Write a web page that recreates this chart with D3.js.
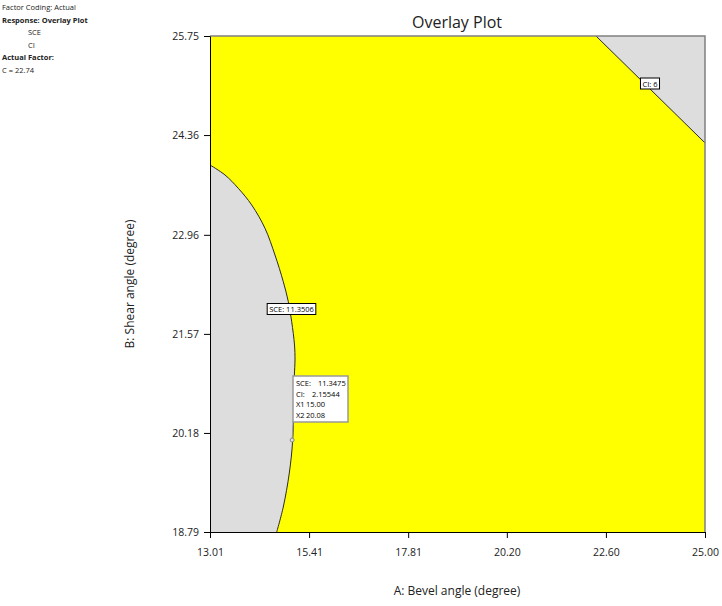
<!DOCTYPE html>
<html><head><meta charset="utf-8">
<script src="https://cdn.jsdelivr.net/npm/d3@7"></script>
<style>body{margin:0;background:#fff}svg{display:block}text{font-family:"Open Sans","Noto Sans",sans-serif}</style>
</head><body>
<svg id="c" width="722" height="606"></svg>
<script>
const xTicks = ["13.01","15.41","17.81","20.20","22.60","25.00"];
const yTicks = ["18.79","20.18","21.57","22.96","24.36","25.75"];
const xDomain = [13.01, 25.00];
const yDomain = [18.79, 25.75];
// SCE = 11.3506 contour (x: bevel angle, y: shear angle)
const sceX = [13.01, 13.373, 13.695, 14.020, 14.342, 14.584, 14.785, 14.907, 14.989, 15.057, 15.069, 15.052, 15.013, 14.931, 14.785, 14.626];
const sceY = [23.940, 23.800, 23.613, 23.379, 23.052, 22.677, 22.303, 22.022, 21.741, 21.414, 21.204, 20.965, 20.081, 19.618, 19.141, 18.790];
// CI = 6 contour
const ciX = [22.36, 25.00];
const ciY = [25.75, 24.25];
const infoLines = [["Factor Coding: Actual",false,0],["Response: Overlay Plot",true,0],["SCE",false,1],["CI",false,1],["Actual Factor:",true,0],["C = 22.74",false,0]];
const tooltip = [["SCE:","11.3475"],["CI:","2.15544"],["X1","15.00"],["X2","20.08"]];
const flagPoint = [15.00, 20.08];

const svg = d3.select("#c");
const L=210,R=705,T=36,B=532;
const x = d3.scaleLinear().domain(xDomain).range([L,R]);
const y = d3.scaleLinear().domain(yDomain).range([B,T]);

svg.append("rect").attr("x",L).attr("y",T).attr("width",R-L).attr("height",B-T).attr("fill","#ffff00");

const scePts = sceX.map((v,i)=>[x(v),y(sceY[i])]);
const ciPts = ciX.map((v,i)=>[x(v),y(ciY[i])]);
const curve = d3.line().curve(d3.curveCatmullRom.alpha(0.5));
svg.append("path").attr("d", curve(scePts) + `L${x(13.01)},${y(18.79)}Z`).attr("fill","#dddddd");
svg.append("path").attr("d", `M${ciPts[0]}L${ciPts[1]}L${x(25)},${y(25.75)}Z`).attr("fill","#dddddd");
svg.append("path").attr("d",curve(scePts)).attr("fill","none").attr("stroke","#2a2a2a").attr("stroke-width",1);
svg.append("path").attr("d",d3.line()(ciPts)).attr("fill","none").attr("stroke","#2a2a2a").attr("stroke-width",1);

svg.append("path").attr("d",`M${L},${T}H${R}V${B}`).attr("fill","none").attr("stroke","#808080").attr("stroke-width",1.5);

const xa = d3.axisBottom(x).tickValues(xTicks.map(Number)).tickFormat((d,i)=>xTicks[i]).tickSize(6).tickSizeOuter(0).tickPadding(5);
const ya = d3.axisLeft(y).tickValues(yTicks.map(Number)).tickFormat((d,i)=>yTicks[i]).tickSize(6).tickSizeOuter(0).tickPadding(5);
const gx = svg.append("g").attr("transform",`translate(0,${B})`).call(xa);
const gy = svg.append("g").attr("transform",`translate(${L},0)`).call(ya);
[gx,gy].forEach(g=>{g.selectAll("text").attr("font-size",10.5).attr("fill","#222").style("font-family",'"Open Sans","Noto Sans",sans-serif');g.selectAll("line,path").attr("stroke","#000");});
gx.selectAll("text").attr("dy","1.2em");

function boxLabel(cx, cy, txt){
  const g = svg.append("g");
  const t = g.append("text").attr("x",cx).attr("y",cy+3).attr("text-anchor","middle").attr("font-size",7.5).attr("fill","#000").text(txt);
  const bb = t.node().getBBox();
  g.insert("rect","text").attr("x",bb.x-2).attr("y",bb.y-0.5).attr("width",bb.width+4).attr("height",bb.height+1).attr("fill","#fff").attr("stroke","#000").attr("stroke-width",1);
}
boxLabel(291.5, 309, "SCE: 11.3506");
boxLabel(650, 83.5, "CI: 6");

const fx = x(flagPoint[0]), fy = y(flagPoint[1]);
svg.append("line").attr("x1",fx).attr("y1",fy).attr("x2",fx+1).attr("y2",422).attr("stroke","#999").attr("stroke-width",1);
const tg = svg.append("g");
tg.append("rect").attr("x",293).attr("y",376).attr("width",55).attr("height",46).attr("fill","#fff").attr("stroke","#999").attr("stroke-width",1.5);
tooltip.forEach((r,i)=>{
  tg.append("text").attr("x",296).attr("y",386+i*10.5).attr("font-size",7.5).attr("fill","#000").text(r[0]);
  tg.append("text").attr("x",i===0?318:(i===1?312:306)).attr("y",386+i*10.5).attr("font-size",7.5).attr("fill","#000").text(r[1]);
});
svg.append("circle").attr("cx",fx).attr("cy",fy).attr("r",2).attr("fill","#ddd").attr("stroke","#888").attr("stroke-width",1);

svg.append("text").attr("x",457).attr("y",28).attr("text-anchor","middle").attr("font-size",16).attr("fill","#222").text("Overlay Plot");
svg.append("text").attr("x",457).attr("y",595).attr("text-anchor","middle").attr("font-size",12).attr("fill","#222").text("A: Bevel angle (degree)");
svg.append("text").attr("transform","translate(134,284) rotate(-90)").attr("text-anchor","middle").attr("font-size",12).attr("fill","#222").text("B: Shear angle (degree)");

infoLines.forEach((l,i)=>{
  svg.append("text").attr("x",l[2]?28:2).attr("y",10+i*12.6).attr("font-size",7.5).attr("font-weight",l[1]?"bold":"normal").attr("fill","#222").text(l[0]);
});
</script>
</body></html>
